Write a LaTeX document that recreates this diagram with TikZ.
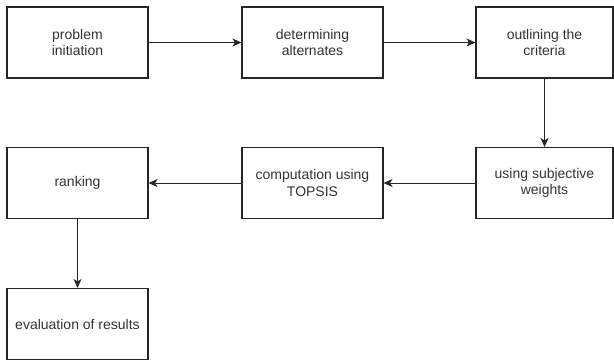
\documentclass[tikz,border=0pt]{standalone}
\usepackage{fontspec}
\setmainfont{Liberation Sans}
\usetikzlibrary{arrows.meta}
\begin{document}
\begin{tikzpicture}[x=1pt,y=-1pt,
  stepbox/.style={draw=black!85,line width=1.1pt,minimum width=141pt,minimum height=71pt,inner sep=0pt,
    align=center,font=\fontsize{14}{16.5}\selectfont,text=black!80},
  conn/.style={draw=black!85,line width=1pt,-{Stealth[length=9pt,width=8pt,inset=2.5pt]}}]
\useasboundingbox (0,0) rectangle (614,360);
\node[stepbox] (a) at (77.5,42.5) {problem\\initiation};
\node[stepbox] (b) at (312.5,42.5) {determining\\alternates};
\node[stepbox,minimum width=137pt] (c) at (544.5,42.5) {outlining the\\criteria};
\node[stepbox,minimum width=137pt] (d) at (544.5,183) {using subjective\\weights};
\node[stepbox] (e) at (312.5,183) {computation using\\TOPSIS};
\node[stepbox] (f) at (77.5,183) {ranking};
\node[stepbox] (g) at (77.5,324) {evaluation of results};
\draw[conn] (a) -- (b);
\draw[conn] (b) -- (c);
\draw[conn] (c) -- (d);
\draw[conn] (d) -- (e);
\draw[conn] (e) -- (f);
\draw[conn] (f) -- (g);
\end{tikzpicture}
\end{document}
